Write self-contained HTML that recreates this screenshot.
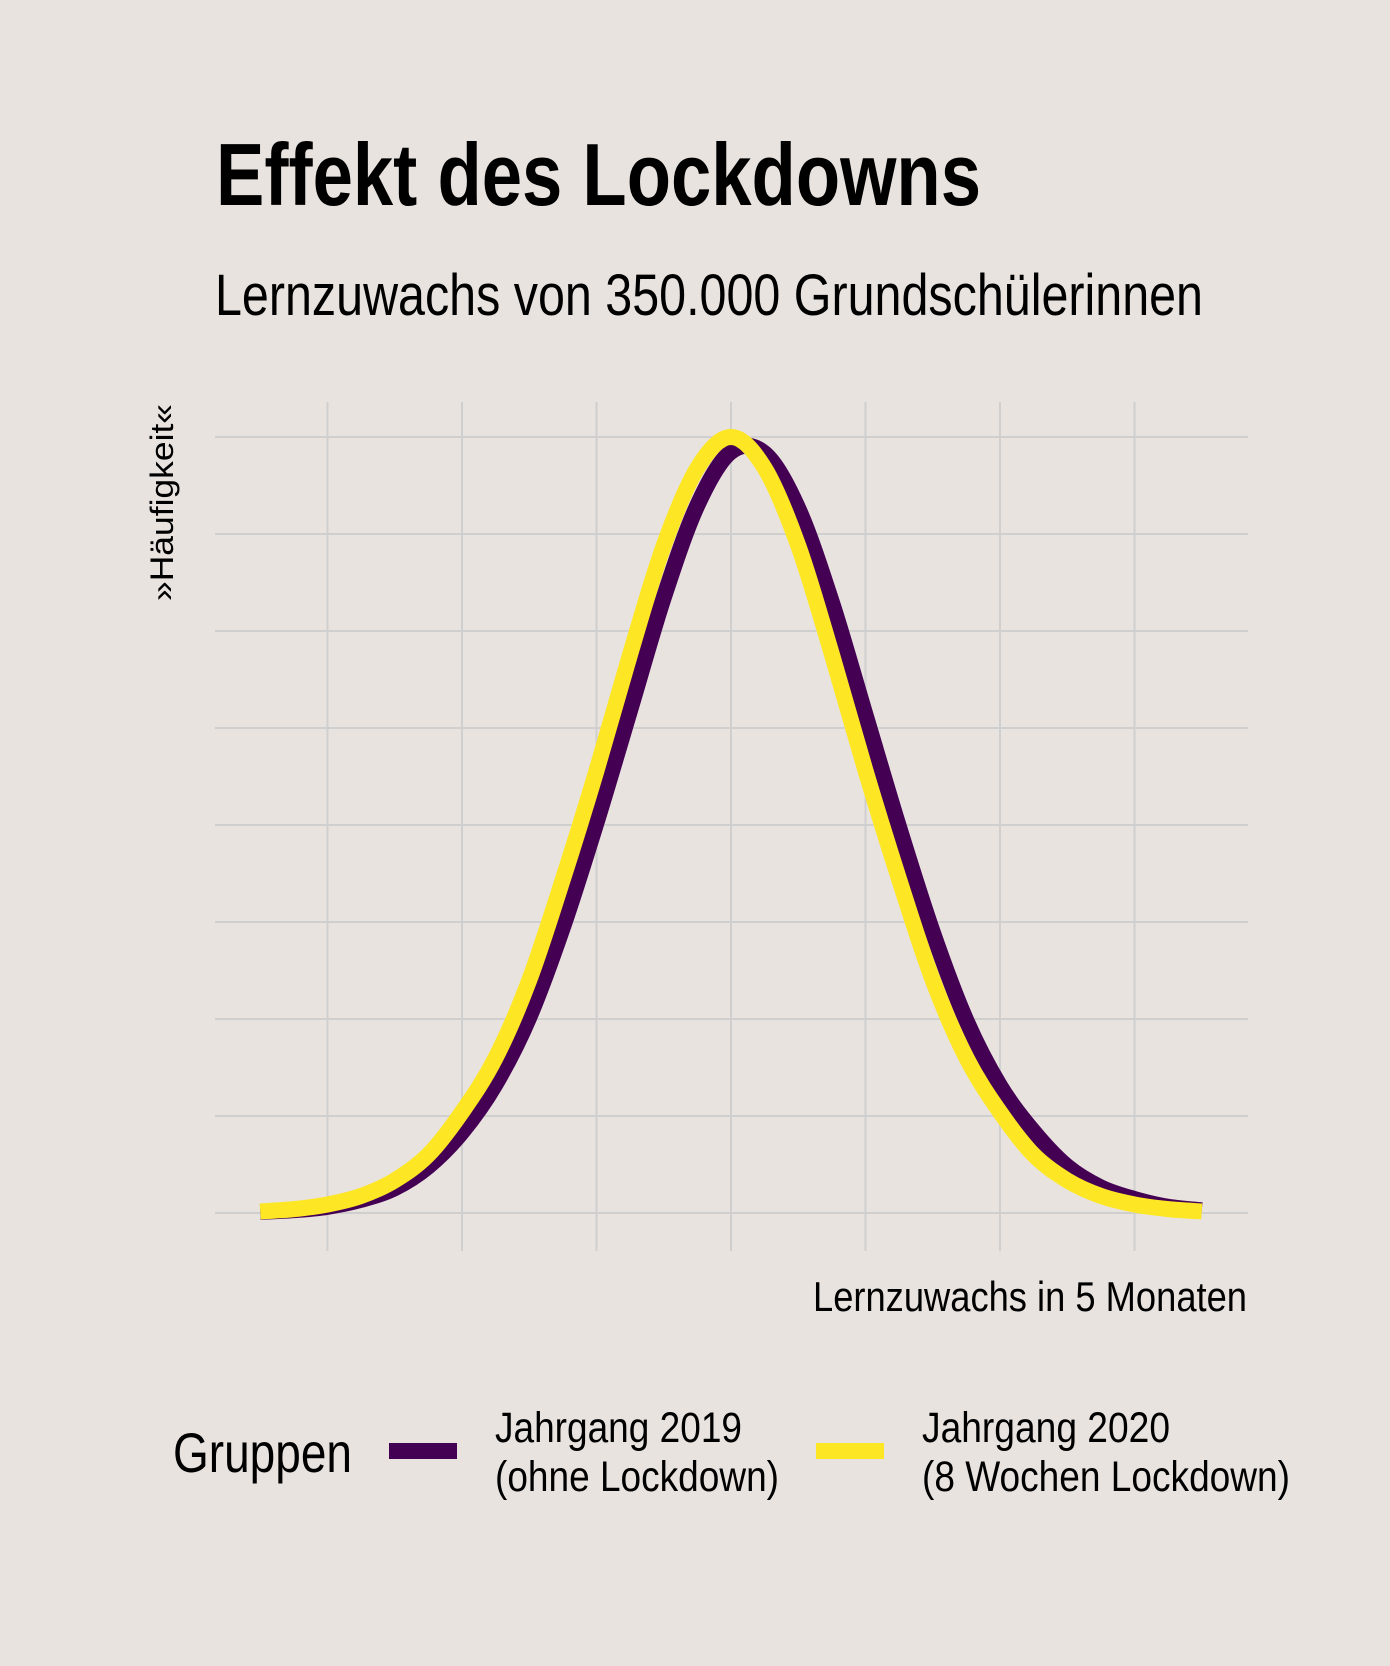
<!DOCTYPE html>
<html><head><meta charset="utf-8">
<style>
html,body{margin:0;padding:0;background:#e8e3df;}
svg{display:block;font-family:"Liberation Sans Narrow","Liberation Sans",sans-serif;}
</style></head>
<body>
<svg id="chart" width="1390" height="1666" viewBox="0 0 1390 1666" xmlns="http://www.w3.org/2000/svg">
<rect width="1390" height="1666" fill="#e8e3df"/>
<text x="216" y="205" font-size="88" font-weight="bold" textLength="765" lengthAdjust="spacingAndGlyphs" fill="#000">Effekt des Lockdowns</text>
<text x="215" y="315" font-size="58" textLength="988" lengthAdjust="spacingAndGlyphs" fill="#000">Lernzuwachs von 350.000 Grundschülerinnen</text>
<g id="grid"></g>
<g id="series"></g>
<text transform="translate(173,601) rotate(-90)" font-size="32" textLength="197" lengthAdjust="spacingAndGlyphs" fill="#000">»Häufigkeit«</text>
<text x="1247" y="1311" font-size="42" text-anchor="end" textLength="434" lengthAdjust="spacingAndGlyphs" fill="#000">Lernzuwachs in 5 Monaten</text>
<g>
<text x="173" y="1472" font-size="56" textLength="179" lengthAdjust="spacingAndGlyphs" fill="#000">Gruppen</text>
<rect x="389" y="1443" width="68" height="16" fill="#440154"/>
<text x="495" y="1442" font-size="43" textLength="247" lengthAdjust="spacingAndGlyphs" fill="#000">Jahrgang 2019</text>
<text x="495" y="1491" font-size="43" textLength="284" lengthAdjust="spacingAndGlyphs" fill="#000">(ohne Lockdown)</text>
<rect x="816" y="1443" width="68" height="16" fill="#fde725"/>
<text x="922" y="1442" font-size="43" textLength="248" lengthAdjust="spacingAndGlyphs" fill="#000">Jahrgang 2020</text>
<text x="922" y="1491" font-size="43" textLength="368" lengthAdjust="spacingAndGlyphs" fill="#000">(8 Wochen Lockdown)</text>
</g>
</svg>
<script>
const xGridTicks = [-3, -2, -1, 0, 1, 2, 3];
const yGridTicks = [0, 0.125, 0.25, 0.375, 0.5, 0.625, 0.75, 0.875, 1];
const xValues = [-3.5,-3.25,-3,-2.75,-2.5,-2.25,-2,-1.75,-1.5,-1.25,-1,-0.75,-0.5,-0.25,0,0.25,0.5,0.75,1,1.25,1.5,1.75,2,2.25,2.5,2.75,3,3.25,3.5];
const density2020 = [0.002,0.005,0.011,0.022,0.042,0.075,0.13,0.2,0.3,0.43,0.57,0.72,0.86,0.96,1,0.96,0.86,0.72,0.57,0.43,0.3,0.2,0.13,0.075,0.042,0.022,0.011,0.005,0.002];
const density2019 = [0.0015,0.0036,0.008,0.017,0.032,0.06,0.104,0.166,0.252,0.368,0.503,0.648,0.793,0.912,0.981,0.979,0.908,0.787,0.642,0.497,0.362,0.248,0.164,0.105,0.06,0.033,0.018,0.008,0.0034];

const NS = "http://www.w3.org/2000/svg";
const X0 = 731, XU = 134.5, Y0 = 1213, YH = 776;
function sx(v){ return X0 + v*XU; }
function sy(v){ return Y0 - v*YH; }

const grid = document.getElementById('grid');
xGridTicks.forEach(t => {
  const l = document.createElementNS(NS,'line');
  
  
  l.setAttribute('x1',sx(t)); l.setAttribute('x2',sx(t));
  l.setAttribute('y1',402); l.setAttribute('y2',1251);
  l.setAttribute('stroke','#d0cfcf'); l.setAttribute('stroke-width','2');
  grid.appendChild(l);
});
yGridTicks.forEach(t => {
  const l = document.createElementNS(NS,'line');
  
  
  l.setAttribute('x1',215); l.setAttribute('x2',1248);
  l.setAttribute('y1',sy(t)); l.setAttribute('y2',sy(t));
  l.setAttribute('stroke','#d0cfcf'); l.setAttribute('stroke-width','2');
  grid.appendChild(l);
});

function smoothPath(pts){
  let d = 'M' + pts[0][0] + ',' + pts[0][1];
  for (let i=0;i<pts.length-1;i++){
    const p0 = pts[Math.max(0,i-1)], p1 = pts[i], p2 = pts[i+1], p3 = pts[Math.min(pts.length-1,i+2)];
    const c1x = p1[0] + (p2[0]-p0[0])/6, c1y = p1[1] + (p2[1]-p0[1])/6;
    const c2x = p2[0] - (p3[0]-p1[0])/6, c2y = p2[1] - (p3[1]-p1[1])/6;
    d += ' C' + c1x + ',' + c1y + ' ' + c2x + ',' + c2y + ' ' + p2[0] + ',' + p2[1];
  }
  return d;
}
const series = document.getElementById('series');
const p19 = xValues.map((x,i)=>[sx(x), sy(density2019[i])]);
const p20 = xValues.map((x,i)=>[sx(x), sy(density2020[i])]);
const l19 = document.createElementNS(NS,'path');


l19.setAttribute('d', smoothPath(p19));
l19.setAttribute('fill','none'); l19.setAttribute('stroke','#440154'); l19.setAttribute('stroke-width','16');
series.appendChild(l19);
const l20 = document.createElementNS(NS,'path');


l20.setAttribute('d', smoothPath(p20));
l20.setAttribute('fill','none'); l20.setAttribute('stroke','#fde725'); l20.setAttribute('stroke-width','16');
series.appendChild(l20);
</script>
</body></html>
